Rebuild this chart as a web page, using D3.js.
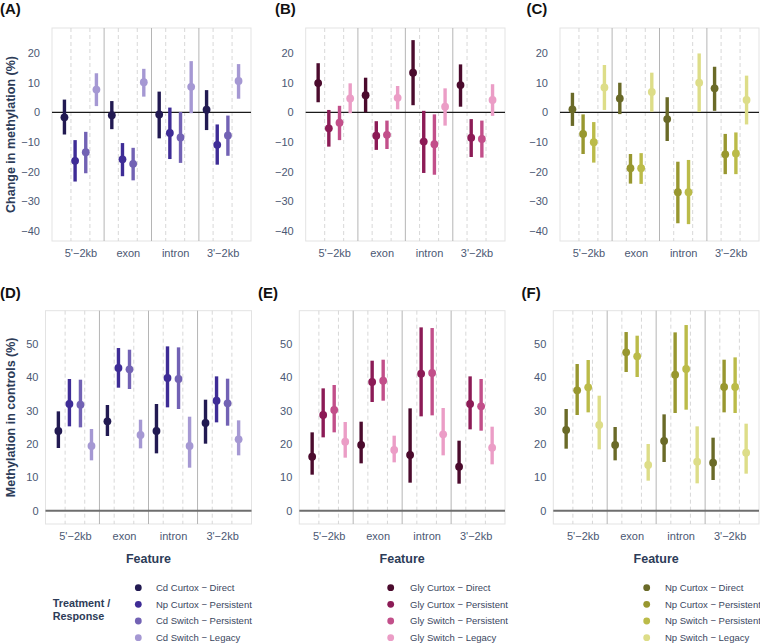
<!DOCTYPE html>
<html><head><meta charset="utf-8">
<script src="https://cdn.jsdelivr.net/npm/d3@7"></script>
<style>
body{margin:0;background:#fff}
svg{display:block}
text{font-family:"Liberation Sans",Arial,Helvetica,sans-serif}
</style>
</head><body>
<svg id="c" width="760" height="643"></svg>
<script>
// ---------- data ----------
const features = ["5'\u22122kb", "exon", "intron", "3'\u22122kb"];
const cdGroups  = ["Cd Curtox \u2212 Direct", "Np Curtox \u2212 Persistent", "Cd Switch \u2212 Persistent", "Cd Switch \u2212 Legacy"];
const glyGroups = ["Gly Curtox \u2212 Direct", "Gly Curtox \u2212 Persistent", "Gly Switch \u2212 Persistent", "Gly Switch \u2212 Legacy"];
const npGroups  = ["Np Curtox \u2212 Direct", "Np Curtox \u2212 Persistent", "Np Switch \u2212 Persistent", "Np Switch \u2212 Legacy"];
const cdColors  = ["#221a52", "#3e2c96", "#7262b4", "#a598d3"];
const glyColors = ["#4b0b2d", "#8c1b56", "#c24f8a", "#eb9dc6"];
const npColors  = ["#6a6a28", "#98972f", "#bbbb49", "#dddd88"];
const changeTicks  = [-40, -30, -20, -10, 0, 10, 20];
const controlTicks = [0, 10, 20, 30, 40, 50];

// rows = features, columns = groups
const cdChangeMid = [[-1.7,-16.4,-13.5,7.7],[-1.0,-15.9,-17.4,10.2],[-0.7,-7.0,-8.5,8.6],[0.9,-11.0,-7.8,10.6]];
const cdChangeLo  = [[-7.5,-23.4,-20.6,2.1],[-5.7,-21.6,-23.0,5.3],[-8.8,-15.8,-17.1,-0.3],[-6.0,-17.7,-14.7,4.6]];
const cdChangeHi  = [[4.3,-9.4,-6.6,13.2],[3.8,-10.4,-12.0,14.7],[7.0,1.6,0.1,17.3],[7.5,-4.1,-1.1,16.3]];

const glyChangeMid = [[9.9,-5.4,-3.5,4.7],[5.8,-7.9,-7.6,4.9],[13.4,-9.9,-10.8,1.9],[9.2,-8.6,-9.0,4.2]];
const glyChangeLo  = [[3.4,-11.6,-9.4,-0.3],[0.0,-12.7,-12.4,1.0],[2.4,-20.5,-21.1,-4.5],[1.9,-15.1,-15.3,-1.2]];
const glyChangeHi  = [[16.6,0.8,2.2,9.8],[11.7,-3.0,-2.8,8.9],[24.4,0.5,-0.7,8.1],[16.2,-2.3,-2.8,9.5]];

const npChangeMid = [[1.0,-7.3,-10.1,8.4],[4.7,-18.9,-18.9,6.9],[-2.3,-27.0,-27.0,10.0],[8.1,-14.2,-13.9,4.2]];
const npChangeLo  = [[-4.6,-14.1,-17.0,0.8],[-0.6,-24.1,-24.2,0.2],[-9.7,-37.5,-37.8,0.1],[0.5,-20.9,-20.9,-4.1]];
const npChangeHi  = [[6.6,-0.7,-3.3,16.0],[10.0,-14.1,-13.8,13.4],[5.1,-16.7,-16.1,19.9],[15.4,-7.3,-6.8,12.4]];

const cdCtrlMid = [[23.9,32.0,31.8,19.4],[26.8,42.8,42.4,22.7],[23.9,39.8,39.5,19.4],[26.3,33.0,32.2,21.4]];
const cdCtrlLo  = [[18.8,25.3,25.0,15.1],[22.4,36.9,36.5,18.7],[17.2,31.0,30.5,12.9],[20.1,26.5,25.5,16.6]];
const cdCtrlHi  = [[29.8,39.5,39.3,24.5],[31.7,48.8,48.3,27.3],[32.0,49.3,49.0,28.2],[33.3,40.3,39.6,27.1]];

const glyCtrlMid = [[16.2,28.7,30.2,20.7],[19.7,38.6,39.0,18.2],[16.7,41.1,41.3,22.9],[13.2,32.0,31.3,18.9]];
const glyCtrlLo  = [[10.8,22.0,23.5,15.9],[14.2,32.6,33.0,14.5],[8.4,28.3,28.6,16.6],[8.1,24.4,24.0,13.9]];
const glyCtrlHi  = [[23.5,36.7,37.7,26.6],[26.7,45.0,45.3,22.5],[30.7,55.0,54.8,30.8],[21.0,40.3,39.5,25.2]];

const npCtrlMid = [[24.2,36.1,37.0,25.7],[19.7,47.5,46.3,13.7],[20.9,40.8,42.5,14.7],[14.4,37.1,37.1,17.4]];
const npCtrlLo  = [[18.6,28.7,29.5,18.4],[15.1,41.6,40.1,9.0],[14.6,29.3,30.3,8.2],[9.2,29.5,29.3,11.1]];
const npCtrlHi  = [[30.5,44.0,45.2,34.5],[25.1,53.6,52.5,20.0],[28.9,53.5,55.7,25.3],[21.9,45.3,46.0,26.1]];

// ---------- layout ----------
const svg = d3.select("#c");
const axisTextColor = "#4b5873";
const titleColor = "#2d3c58";
const dodge = [-0.3375, -0.1125, 0.1125, 0.3375];

const panels = [
  {tag:"(A)", tx:0,   ty:14,  x0:52,    x1:251, y0:28,    y1:241, dom:[-43.5,28.5], ticks:changeTicks, mid:cdChangeMid, lo:cdChangeLo, hi:cdChangeHi, col:cdColors, gap:12, zero:"top", ytitle:"Change in methylation (%)"},
  {tag:"(B)", tx:275, ty:14,  x0:305.7, x1:505, y0:28,    y1:241, dom:[-43.5,28.5], ticks:changeTicks, mid:glyChangeMid, lo:glyChangeLo, hi:glyChangeHi, col:glyColors, gap:12, zero:"top"},
  {tag:"(C)", tx:526.5, ty:14, x0:560,  x1:759, y0:28,    y1:241, dom:[-43.5,28.5], ticks:changeTicks, mid:npChangeMid, lo:npChangeLo, hi:npChangeHi, col:npColors, gap:12, zero:"top"},
  {tag:"(D)", tx:0,   ty:298, x0:45.5,  x1:251.5, y0:310.7, y1:524, dom:[-4,60], ticks:controlTicks, mid:cdCtrlMid, lo:cdCtrlLo, hi:cdCtrlHi, col:cdColors, gap:7, zero:"bottom", ytitle:"Methylation in controls (%)", feature:true, legend:{groups:cdGroups, px:138.3, lx:156, title:true}},
  {tag:"(E)", tx:258, ty:298, x0:299.3, x1:505, y0:310.7, y1:524, dom:[-4,60], ticks:controlTicks, mid:glyCtrlMid, lo:glyCtrlLo, hi:glyCtrlHi, col:glyColors, gap:7, zero:"bottom", feature:true, legend:{groups:glyGroups, px:390.7, lx:410}},
  {tag:"(F)", tx:521.5, ty:298, x0:553.3, x1:759, y0:310.7, y1:524, dom:[-4,60], ticks:controlTicks, mid:npCtrlMid, lo:npCtrlLo, hi:npCtrlHi, col:npColors, gap:7, zero:"bottom", feature:true, legend:{groups:npGroups, px:646.7, lx:665}}
];

panels.forEach(p => {
  const g = svg.append("g");
  const x = d3.scaleLinear().domain([0.4, 4.6]).range([p.x0, p.x1]);
  const y = d3.scaleLinear().domain(p.dom).range([p.y1, p.y0]);

  // panel border
  g.append("rect").attr("x", p.x0).attr("y", p.y0).attr("width", p.x1 - p.x0).attr("height", p.y1 - p.y0)
    .attr("fill", "none").attr("stroke", "#e3e3e3").attr("stroke-width", 1);

  // dashed gridlines
  const grid = [];
  features.forEach((f, i) => { grid.push(i + 1 - 0.2, i + 1 + 0.2); });
  g.selectAll(".grid").data(grid).join("line")
    .attr("x1", d => x(d)).attr("x2", d => x(d)).attr("y1", p.y0).attr("y2", p.y1)
    .attr("stroke", "#d4d4d4").attr("stroke-width", 0.9).attr("stroke-dasharray", "4,3");

  // separators
  g.selectAll(".sep").data([1.5, 2.5, 3.5]).join("line")
    .attr("x1", d => x(d)).attr("x2", d => x(d)).attr("y1", p.y0).attr("y2", p.y1)
    .attr("stroke", "#b5b5b5").attr("stroke-width", 1);

  // zero line
  g.append("line").attr("x1", p.x0).attr("x2", p.x1).attr("y1", y(0)).attr("y2", y(0))
    .attr("stroke", p.zero === "top" ? "#1a1a1a" : "#6e6e6e")
    .attr("stroke-width", p.zero === "top" ? 1.2 : 2);

  // y axis
  const ya = g.append("g").attr("transform", `translate(${p.x0 - p.gap},0)`)
    .call(d3.axisLeft(y).tickValues(p.ticks).tickSize(0).tickPadding(0).tickFormat(d3.format("d")));
  ya.select(".domain").remove();
  ya.selectAll("text").attr("fill", axisTextColor).attr("font-size", 11).style("font-family", '"Liberation Sans",Arial,sans-serif');

  // x axis
  const xa = g.append("g").attr("transform", `translate(0,${p.y1})`)
    .call(d3.axisBottom(x).tickValues([1, 2, 3, 4]).tickSize(0).tickPadding(8).tickFormat((d, i) => features[i]));
  xa.select(".domain").remove();
  xa.selectAll("text").attr("fill", axisTextColor).attr("font-size", 11).style("font-family", '"Liberation Sans",Arial,sans-serif');

  // error bars & points
  const recs = [];
  features.forEach((f, i) => {
    p.mid[i].forEach((m, j) => recs.push({fx: i + 1 + dodge[j], m, lo: p.lo[i][j], hi: p.hi[i][j], c: p.col[j]}));
  });
  g.selectAll(".bar").data(recs).join("line")
    .attr("x1", d => x(d.fx)).attr("x2", d => x(d.fx)).attr("y1", d => y(d.lo)).attr("y2", d => y(d.hi))
    .attr("stroke", d => d.c).attr("stroke-width", 3.4);
  g.selectAll(".pt").data(recs).join("circle")
    .attr("cx", d => x(d.fx)).attr("cy", d => y(d.m)).attr("r", 3.9).attr("fill", d => d.c);

  // panel tag
  svg.append("text").attr("x", p.tx).attr("y", p.ty).text(p.tag)
    .attr("font-size", 15).attr("font-weight", "bold").attr("fill", "#111");

  // y title
  if (p.ytitle) {
    const cy = (p.y0 + p.y1) / 2;
    svg.append("text").attr("transform", `translate(15,${cy}) rotate(-90)`).attr("text-anchor", "middle")
      .text(p.ytitle).attr("font-size", 12.5).attr("font-weight", "bold").attr("fill", titleColor);
  }
  if (p.feature) {
    svg.append("text").attr("x", (p.x0 + p.x1) / 2).attr("y", 563).attr("text-anchor", "middle")
      .text("Feature").attr("font-size", 12.5).attr("font-weight", "bold").attr("fill", titleColor);
  }
  if (p.legend) {
    const L = p.legend;
    const rows = [587.7, 604.3, 621, 637.7];
    const lg = svg.append("g");
    lg.selectAll("circle").data(L.groups).join("circle")
      .attr("cx", L.px).attr("cy", (d, i) => rows[i]).attr("r", 3.4).attr("fill", (d, i) => p.col[i]);
    lg.selectAll("text").data(L.groups).join("text")
      .attr("x", L.lx).attr("y", (d, i) => rows[i] + 3.4).text(d => d)
      .attr("font-size", 9.5).attr("fill", "#3a4660");
    if (L.title) {
      svg.append("text").attr("x", 52.7).attr("y", 606.5).text("Treatment /")
        .attr("font-size", 10.8).attr("font-weight", "bold").attr("fill", titleColor);
      svg.append("text").attr("x", 52.7).attr("y", 620).text("Response")
        .attr("font-size", 10.8).attr("font-weight", "bold").attr("fill", titleColor);
    }
  }
});
</script>
</body></html>
